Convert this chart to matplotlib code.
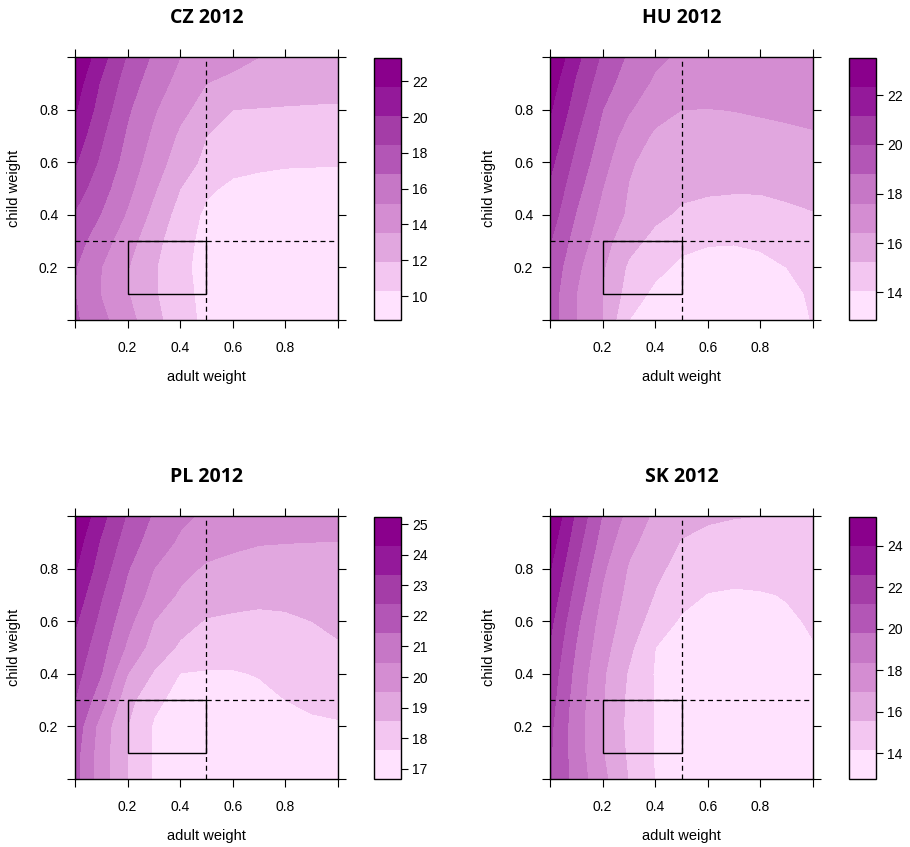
import numpy as np
import matplotlib
matplotlib.use('Agg')
import matplotlib.pyplot as plt
from matplotlib.colors import ListedColormap, BoundaryNorm
from matplotlib.cm import ScalarMappable
from matplotlib.patches import Rectangle

# grid (rows: child weight from 1.0 down to 0.0)
adult_w = [0.0, 0.1, 0.2, 0.3, 0.4, 0.5, 0.6, 0.7, 0.8, 0.9, 1.0]
child_w = [1.0, 0.9, 0.8, 0.7, 0.6, 0.5, 0.4, 0.3, 0.2, 0.1, 0.0]

cz = [
    [23.30, 20.67, 18.24, 16.52, 15.17, 14.62, 14.05, 13.54, 13.22, 12.97, 12.81],
    [22.49, 19.82, 17.61, 15.90, 14.63, 13.54, 13.13, 12.81, 12.60, 12.48, 12.40],
    [21.84, 19.30, 17.01, 15.33, 13.95, 12.87, 11.91, 11.85, 11.80, 11.77, 11.75],
    [21.03, 18.65, 16.54, 14.84, 13.26, 11.91, 11.51, 11.26, 11.10, 11.05, 11.02],
    [20.21, 18.10, 16.11, 14.36, 12.70, 11.51, 10.78, 10.53, 10.42, 10.39, 10.37],
    [19.24, 17.41, 15.59, 13.74, 11.91, 10.56, 9.96, 9.88, 9.83, 9.83, 9.88],
    [18.26, 16.71, 14.97, 13.07, 11.26, 9.96, 9.47, 9.39, 9.31, 9.34, 9.47],
    [17.45, 15.90, 14.18, 12.44, 10.87, 9.80, 9.31, 9.15, 9.07, 9.12, 9.23],
    [16.88, 15.17, 13.62, 12.08, 10.69, 9.72, 9.23, 8.99, 8.90, 8.95, 9.07],
    [16.80, 15.09, 13.62, 12.08, 10.82, 9.80, 9.23, 8.95, 8.86, 8.89, 8.99],
    [17.04, 15.56, 14.11, 12.39, 10.97, 9.88, 9.31, 8.99, 8.82, 8.82, 8.90],
]

hu = [
    [23.50, 21.46, 19.76, 18.59, 17.82, 17.42, 17.25, 17.13, 17.07, 17.01, 16.95],
    [22.91, 20.96, 19.30, 18.17, 17.42, 17.07, 16.89, 16.77, 16.72, 16.68, 16.66],
    [22.44, 20.55, 18.78, 17.71, 16.83, 16.42, 16.40, 16.44, 16.49, 16.51, 16.54],
    [21.97, 20.05, 18.40, 17.05, 16.24, 16.13, 16.09, 16.13, 16.24, 16.33, 16.38],
    [21.44, 19.59, 18.01, 16.57, 15.95, 15.77, 15.71, 15.71, 15.77, 15.85, 15.95],
    [20.96, 19.15, 17.60, 16.36, 15.83, 15.48, 15.36, 15.32, 15.32, 15.42, 15.57],
    [20.55, 18.70, 17.25, 16.22, 15.48, 15.06, 14.95, 14.91, 14.95, 15.06, 15.18],
    [20.02, 18.27, 16.89, 15.63, 14.89, 14.36, 14.18, 14.15, 14.24, 14.41, 14.65],
    [19.61, 17.85, 16.54, 15.04, 14.39, 13.82, 13.59, 13.53, 13.77, 14.06, 14.30],
    [19.37, 17.60, 16.42, 14.72, 13.77, 13.41, 13.23, 13.18, 13.29, 13.82, 14.18],
    [19.37, 17.60, 16.42, 14.06, 13.59, 13.23, 13.06, 13.00, 13.12, 13.53, 14.12],
]

pl = [
    [25.23, 23.64, 22.27, 21.30, 20.66, 20.33, 20.14, 20.00, 19.90, 19.83, 19.76],
    [24.75, 23.19, 21.90, 20.95, 20.33, 19.95, 19.71, 19.57, 19.54, 19.52, 19.52],
    [24.37, 22.85, 21.49, 20.47, 19.84, 19.38, 19.24, 19.16, 19.16, 19.19, 19.24],
    [23.90, 22.45, 21.15, 20.13, 19.38, 19.05, 18.86, 18.76, 18.81, 18.90, 19.01],
    [23.47, 22.10, 20.75, 19.52, 18.90, 18.50, 18.43, 18.40, 18.43, 18.57, 18.76],
    [23.04, 21.77, 20.31, 19.12, 18.43, 18.14, 18.05, 18.05, 18.14, 18.29, 18.48],
    [22.71, 21.43, 19.52, 18.48, 17.59, 17.53, 17.54, 17.67, 17.81, 17.95, 18.05],
    [22.38, 20.85, 18.89, 17.81, 17.34, 17.24, 17.24, 17.38, 17.62, 17.72, 17.76],
    [22.00, 20.07, 18.57, 17.53, 17.15, 17.05, 17.05, 17.15, 17.38, 17.53, 17.57],
    [21.76, 19.96, 18.57, 17.54, 17.05, 16.96, 16.96, 17.00, 17.10, 17.19, 17.24],
    [21.71, 19.96, 18.57, 17.53, 17.00, 16.86, 16.81, 16.86, 16.96, 17.00, 17.05],
]

sk = [
    [25.40, 22.31, 19.68, 17.95, 16.69, 15.98, 15.70, 15.60, 15.56, 15.49, 15.42],
    [24.70, 21.75, 19.18, 17.32, 16.31, 15.49, 15.28, 15.21, 15.17, 15.14, 15.14],
    [24.07, 21.19, 18.61, 16.83, 15.84, 15.14, 14.86, 14.75, 14.75, 14.79, 14.86],
    [23.51, 20.62, 18.18, 16.55, 15.49, 14.65, 14.09, 13.95, 14.04, 14.23, 14.58],
    [22.94, 20.06, 17.77, 16.27, 15.00, 13.95, 13.59, 13.52, 13.59, 13.95, 14.30],
    [22.45, 19.67, 17.47, 15.86, 14.16, 13.59, 13.31, 13.24, 13.31, 13.52, 14.09],
    [22.03, 19.32, 17.16, 15.42, 14.04, 13.45, 13.17, 13.10, 13.17, 13.31, 13.59],
    [21.75, 19.08, 17.07, 15.25, 14.06, 13.38, 13.10, 13.03, 13.06, 13.17, 13.38],
    [21.47, 18.96, 16.97, 15.22, 14.09, 13.38, 13.06, 12.96, 12.96, 13.03, 13.17],
    [21.33, 19.02, 17.04, 15.32, 14.09, 13.38, 13.03, 12.92, 12.89, 12.92, 13.03],
    [21.33, 19.18, 17.32, 15.49, 14.10, 13.38, 13.03, 12.89, 12.82, 12.82, 12.89],
]

titles = ['CZ 2012', 'HU 2012', 'PL 2012', 'SK 2012']
surfaces = [cz, hu, pl, sk]
key_range = [(8.66, 23.30), (12.88, 23.50), (16.67, 25.23), (12.75, 25.40)]
key_ticks = [[10, 12, 14, 16, 18, 20, 22], [14, 16, 18, 20, 22],
             [17, 18, 19, 20, 21, 22, 23, 24, 25], [14, 16, 18, 20, 22, 24]]

colors = ['#FFE2FE', '#F3C6F1', '#E1A7DF', '#D48DD2', '#C677C6',
          '#B356B6', '#A43DA7', '#94199A', '#8A008C']
cmap = ListedColormap(colors)

W, H = 910, 847
fig = plt.figure(figsize=(W / 100, H / 100), dpi=100)
plt.rcParams['font.family'] = ['Liberation Sans', 'DejaVu Sans']

# pixel boxes: (left, top) of each panel
panel_pos = [(75, 57), (550, 57), (75, 516), (550, 516)]
size = 263

for (px, py), title, z, (lo, hi), ticks in zip(panel_pos, titles, surfaces, key_range, key_ticks):
    ax = fig.add_axes([px / W, 1 - (py + size) / H, size / W, size / H])
    levels = np.linspace(lo, hi, 10)
    fill_levels = levels.copy()
    fill_levels[0] -= 1
    fill_levels[-1] += 1
    ax.contourf(adult_w, child_w, z, levels=fill_levels, colors=colors)
    ax.axvline(0.5, color='black', ls=(0, (4, 3)), lw=0.9)
    ax.axhline(0.3, color='black', ls=(0, (4, 3)), lw=0.9)
    ax.add_patch(Rectangle((0.2, 0.1), 0.3, 0.2, fill=False, ec='black', lw=1))
    ax.set_xlim(0, 1)
    ax.set_ylim(0, 1)
    tk = [0, 0.2, 0.4, 0.6, 0.8, 1.0]
    tl = ['', '0.2', '0.4', '0.6', '0.8', '']
    ax.set_xticks(tk)
    ax.set_xticklabels(tl)
    ax.set_yticks(tk)
    ax.set_yticklabels(tl)
    ax.tick_params(direction='out', length=6, width=0.8, labelsize=10,
                   top=True, right=True, colors='black')
    ax.tick_params(axis='x', pad=9)
    ax.tick_params(axis='y', pad=6)
    for s in ax.spines.values():
        s.set_linewidth(1)
    ax.set_xlabel('adult weight', fontsize=10.5, labelpad=11)
    ax.set_ylabel('child weight', fontsize=10.5, labelpad=13)
    fig.text((px + size / 2) / W, 1 - (py - 39) / H, title, ha='center', va='center',
             fontsize=14, fontweight='bold', family=['Open Sans', 'DejaVu Sans'])

    cax = fig.add_axes([(px + 299) / W, 1 - (py + size) / H, 27 / W, (size - 1) / H])
    sm = ScalarMappable(norm=BoundaryNorm(levels, 9), cmap=cmap)
    cb = fig.colorbar(sm, cax=cax, ticks=ticks)
    cb.minorticks_off()
    cb.outline.set_linewidth(1)
    cax.tick_params(direction='out', length=5, width=0.8, labelsize=10, pad=3)

fig.savefig('out.png', dpi=100)
